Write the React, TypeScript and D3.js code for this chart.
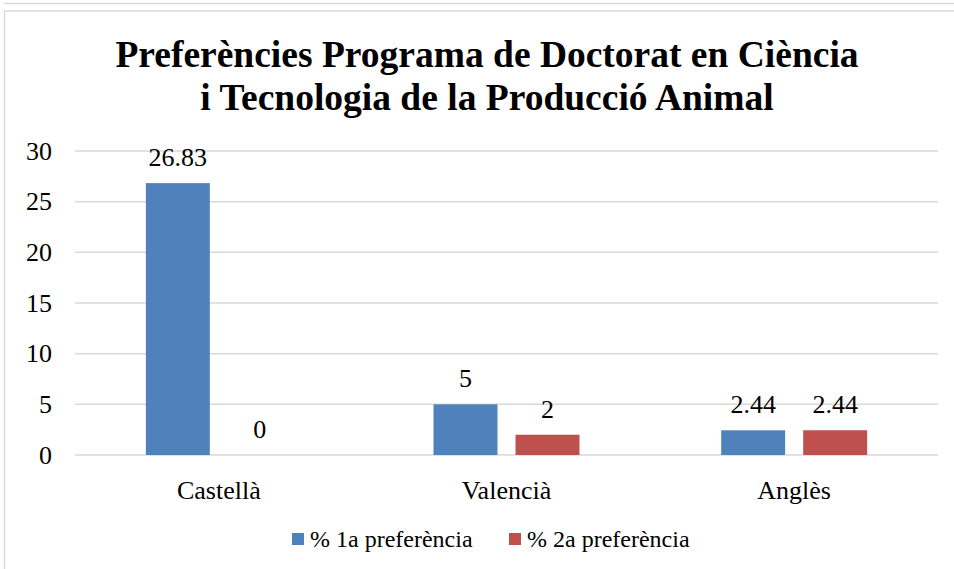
import * as d3 from "d3";

const width = 954;
const height = 569;
const marginTop = 151;
const marginRight = 16;
const marginBottom = 114;
const marginLeft = 75;

const titleLines = [
  "Preferències Programa de Doctorat en Ciència",
  "i Tecnologia de la Producció Animal",
];
const categories = ["Castellà", "Valencià", "Anglès"];
const seriesNames = ["% 1a preferència", "% 2a preferència"];
const firstPref = [26.83, 5, 2.44];
const secondPref = [0, 2, 2.44];
const colors = ["#4F81BD", "#C0504D"];
const yTicks = [0, 5, 10, 15, 20, 25, 30];

const font = "Liberation Serif, serif";

export default function App() {
  const x = d3
    .scaleBand<string>()
    .domain(categories)
    .range([marginLeft, width - marginRight]);

  const inner = d3
    .scaleBand<string>()
    .domain(seriesNames)
    .range([0, x.bandwidth()])
    .paddingInner(0.22)
    .paddingOuter(0.864);

  const y = d3
    .scaleLinear()
    .domain([0, 30])
    .range([height - marginBottom, marginTop]);

  const series = [firstPref, secondPref];

  return (
    <svg
      width={width}
      height={height}
      viewBox={`0 0 ${width} ${height}`}
      style={{ position: "absolute", left: 0, top: 0, background: "#fff" }}
    >
      <line x1={4} x2={width} y1={3.5} y2={3.5} stroke="#d9d9d9" strokeWidth={1.5} />
      <rect x={4.5} y={11} width={width + 10} height={height} fill="#fff" stroke="#d9d9d9" strokeWidth={1.5} />

      <g fontFamily={font} fontWeight="bold" fontSize={37.5} textAnchor="middle" fill="#000">
        {titleLines.map((t, i) => (
          <text key={i} x={487} y={67 + i * 43}>
            {t}
          </text>
        ))}
      </g>

      <g>
        {yTicks.map((t) => (
          <g key={t}>
            <line
              x1={marginLeft}
              x2={width - marginRight}
              y1={y(t)}
              y2={y(t)}
              stroke="#d9d9d9"
              strokeWidth={1.5}
            />
            <text
              x={52}
              y={y(t)}
              dy="0.33em"
              textAnchor="end"
              fontFamily={font}
              fontSize={26}
              fill="#000"
            >
              {t}
            </text>
          </g>
        ))}
      </g>

      {categories.map((c, ci) => (
        <g key={c} transform={`translate(${x(c)},0)`}>
          {series.map((vals, si) => {
            const v = vals[ci];
            const bx = inner(seriesNames[si]) as number;
            return (
              <g key={si}>
                <rect
                  x={bx}
                  y={y(v)}
                  width={inner.bandwidth()}
                  height={y(0) - y(v)}
                  fill={colors[si]}
                />
                <text
                  x={bx + inner.bandwidth() / 2}
                  y={y(v) - 17}
                  textAnchor="middle"
                  fontFamily={font}
                  fontSize={26}
                  fill="#000"
                >
                  {v}
                </text>
              </g>
            );
          })}
          <text
            x={x.bandwidth() / 2}
            y={499}
            textAnchor="middle"
            fontFamily={font}
            fontSize={26}
            fill="#000"
          >
            {c}
          </text>
        </g>
      ))}

      <g fontFamily={font} fontSize={24} fill="#000">
        {seriesNames.map((s, i) => {
          const lx = i === 0 ? 292 : 509;
          return (
            <g key={s}>
              <rect x={lx} y={533} width={12} height={12} fill={colors[i]} />
              <text x={lx + 18} y={547}>
                {s}
              </text>
            </g>
          );
        })}
      </g>
    </svg>
  );
}
